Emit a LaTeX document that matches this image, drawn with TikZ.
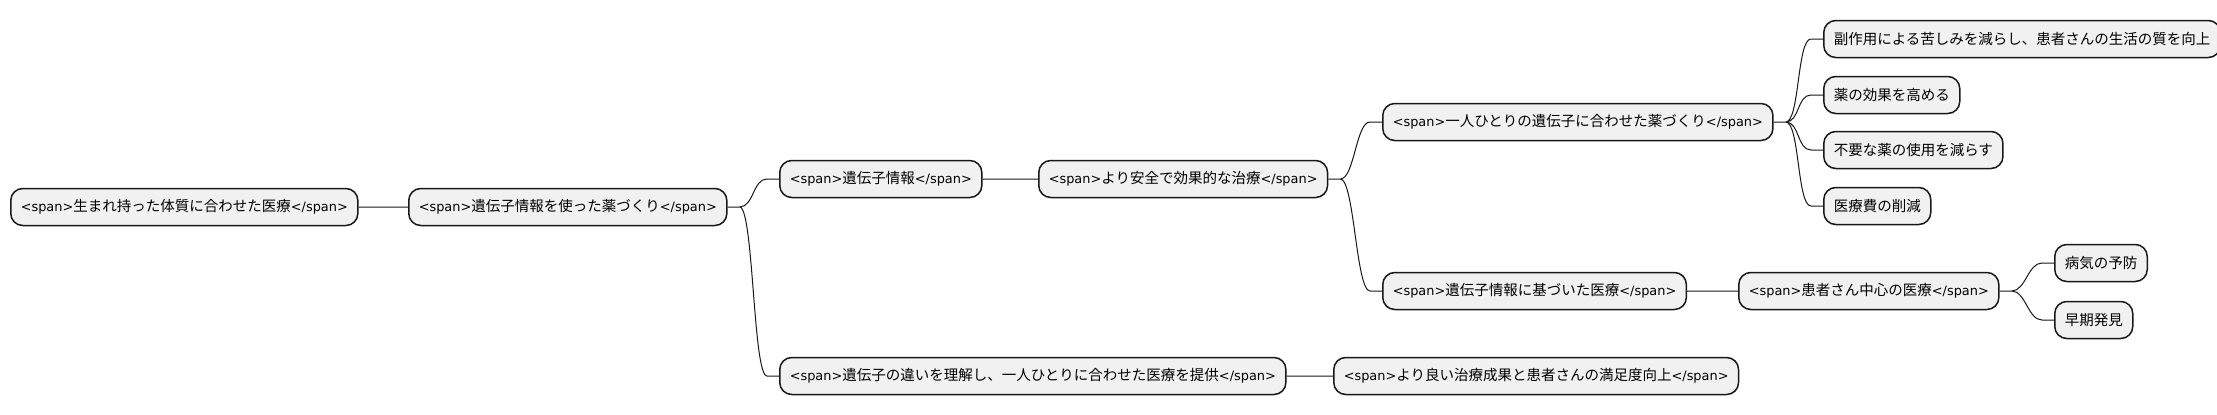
\documentclass[tikz,border=0pt]{standalone}
\usepackage{fontspec}
\setmainfont{Noto Sans CJK JP}
\newfontfamily\latinfont[Scale=0.89]{DejaVu Sans}
\newcommand\spanwrap[1]{{\latinfont<span>}#1{\latinfont</span>}}
\definecolor{boxfill}{HTML}{F1F1F1}
\definecolor{boxline}{HTML}{181818}
\tikzset{
	idea/.style={draw=boxline,fill=boxfill,line width=1.5,rounded corners=12,anchor=west,
		minimum height=37,inner xsep=10,inner ysep=0,font=\fontsize{14.5}{17}\selectfont},
	branch/.style={line width=1,draw=boxline,
		to path={-- ++(12,0) .. controls +(14,0) and ([xshift=-26]\tikztotarget.west)
			.. ([xshift=-12]\tikztotarget.west) -- (\tikztotarget.west)}}
}
\begin{document}
\begin{tikzpicture}[x=1pt,y=-1pt]
	\useasboundingbox (0,0) rectangle (2217,415);
	\node[idea] (root) at (10,207) {\spanwrap{生まれ持った体質に合わせた医療}};
	\node[idea] (drug) at (408,207) {\spanwrap{遺伝子情報を使った薬づくり}};
	\node[idea] (gene) at (779,179) {\spanwrap{遺伝子情報}};
	\node[idea] (safer) at (1038,179) {\spanwrap{より安全で効果的な治療}};
	\node[idea] (each) at (1382,122) {\spanwrap{一人ひとりの遺伝子に合わせた薬づくり}};
	\node[idea] (side) at (1823,39) {副作用による苦しみを減らし、患者さんの生活の質を向上};
	\node[idea] (effect) at (1823,95) {薬の効果を高める};
	\node[idea] (waste) at (1823,150) {不要な薬の使用を減らす};
	\node[idea] (cost) at (1823,206) {医療費の削減};
	\node[idea] (based) at (1382,291) {\spanwrap{遺伝子情報に基づいた医療}};
	\node[idea] (patient) at (1738,291) {\spanwrap{患者さん中心の医療}};
	\node[idea] (prevent) at (2054,263) {病気の予防};
	\node[idea] (early) at (2054,320) {早期発見};
	\node[idea] (differ) at (779,376) {\spanwrap{遺伝子の違いを理解し、一人ひとりに合わせた医療を提供}};
	\node[idea] (better) at (1333,376) {\spanwrap{より良い治療成果と患者さんの満足度向上}};
	\draw[branch] (root.east) to (drug) (drug.east) to (gene) (drug.east) to (differ)
	(gene.east) to (safer) (safer.east) to (each) (safer.east) to (based)
	(each.east) to (side) (each.east) to (effect) (each.east) to (waste) (each.east) to (cost)
	(based.east) to (patient) (patient.east) to (prevent) (patient.east) to (early)
	(differ.east) to (better);
\end{tikzpicture}
\end{document}
